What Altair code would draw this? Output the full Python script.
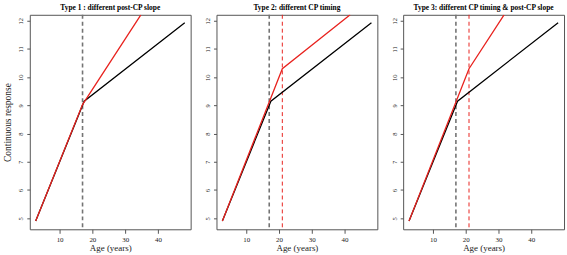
import altair as alt
import pandas as pd

# Values
black_age = [2.7, 17.5, 48.2]
black_resp = [4.9, 9.15, 11.93]

red1_age = [2.7, 17.0, 34.8]
red1_resp = [4.9, 9.03, 12.21]
red2_age = [2.7, 21.0, 41.7]
red2_resp = [4.9, 10.3, 12.21]
red3_age = [2.7, 21.0, 31.7]
red3_resp = [4.9, 10.3, 12.21]

titles = [
    "Type 1 : different post-CP slope",
    "Type 2: different CP timing",
    "Type 3: different CP timing & post-CP slope",
]
black_cp = 17
red_cps = [None, 21, 21]

x_ticks = [10, 20, 30, 40]
y_ticks = [5, 6, 7, 8, 9, 10, 11, 12]

FONT = "Liberation Serif"
RED = "#e8231f"

xscale = alt.Scale(domain=[0.9, 50.0], nice=False, zero=False)
yscale = alt.Scale(domain=[4.61, 12.21], nice=False, zero=False)


def panel(i, red_age, red_resp, red_cp, show_ytitle):
    black_df = pd.DataFrame({"age": black_age, "resp": black_resp})
    red_df = pd.DataFrame({"age": red_age, "resp": red_resp})
    xaxis = alt.Axis(values=x_ticks, title="Age (years)", tickSize=4,
                     labelPadding=2, labelFontSize=7, titleFontSize=9,
                     titlePadding=1, titleFontWeight="normal")
    yaxis = alt.Axis(values=y_ticks, title="Continuous response" if show_ytitle else "",
                     tickSize=3, labelAngle=-90, labelAlign="center",
                     labelBaseline="bottom", labelPadding=3, labelFontSize=6.5,
                     titleFontSize=9.5, titlePadding=5, titleFontWeight="normal")
    base_x = alt.X("age:Q", scale=xscale, axis=xaxis)
    base_y = alt.Y("resp:Q", scale=yscale, axis=yaxis)

    layers = []
    cp_df = pd.DataFrame({"age": [black_cp]})
    layers.append(
        alt.Chart(cp_df).mark_rule(color="#747474", strokeWidth=1.6,
                                   strokeDash=[4, 3]).encode(
            x=alt.X("age:Q", scale=xscale, axis=xaxis))
    )
    if red_cp is not None:
        rcp_df = pd.DataFrame({"age": [red_cp]})
        layers.append(
            alt.Chart(rcp_df).mark_rule(color=RED, strokeWidth=1,
                                        strokeDash=[4, 3]).encode(
                x=alt.X("age:Q", scale=xscale, axis=xaxis))
        )
    layers.append(
        alt.Chart(black_df).mark_line(color="black", strokeWidth=1.3, clip=True)
        .encode(x=base_x, y=base_y)
    )
    layers.append(
        alt.Chart(red_df).mark_line(color=RED, strokeWidth=1.3, clip=True)
        .encode(x=base_x, y=base_y)
    )
    return alt.layer(*layers).properties(
        width=162, height=216,
        title=alt.TitleParams(titles[i], font=FONT, fontSize=7.5,
                              fontWeight="bold", offset=3, anchor="middle"),
    )


p1 = panel(0, red1_age, red1_resp, red_cps[0], True)
p2 = panel(1, red2_age, red2_resp, red_cps[1], False)
p3 = panel(2, red3_age, red3_resp, red_cps[2], False)

chart = alt.hconcat(p1, p2, p3, spacing=26, bounds="flush").properties(
    padding={"left": 2, "top": 2, "right": 2, "bottom": 2},
).configure_view(
    stroke="#555555", strokeWidth=1
).configure_axis(
    domain=False, grid=False, tickColor="#555555", labelColor="#222222",
    titleColor="#222222", labelFont=FONT, titleFont=FONT,
)

chart.save("out.html", embed_options={"renderer": "svg", "actions": False})
